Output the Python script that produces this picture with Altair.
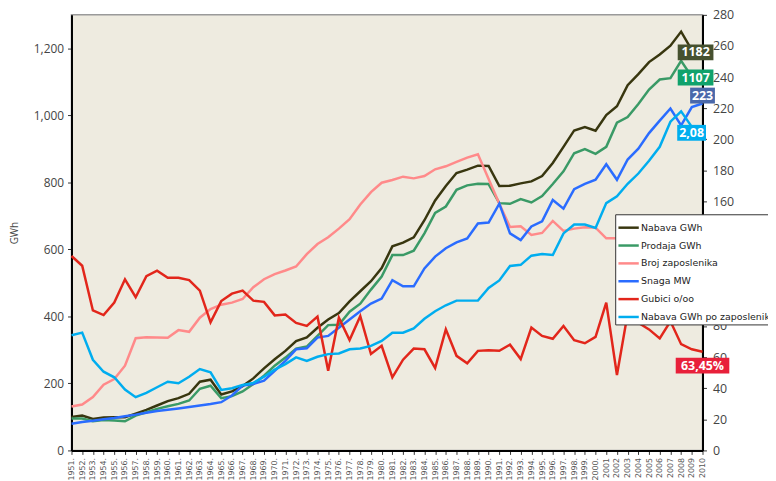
import altair as alt
import pandas as pd

years = list(range(1951, 2011))
year_labels = [
    "1951.", "1952.", "1953.", "1954.", "1955.", "1956.", "1957.", "1958.", "1959.", "1960.",
    "1961.", "1962.", "1963.", "1964.", "1965.", "1966.", "1967.", "1968.", "1969.", "1970.",
    "1971.", "1972.", "1973.", "1974.", "1975.", "1976.", "1977.", "1978.", "1979.", "1980.",
    "1981.", "1982.", "1983.", "1984.", "1985.", "1986.", "1987.", "1988.", "1989.", "1990.",
    "1991.", "1992.", "1993.", "1994.", "1995.", "1996.", "1997.", "1998.", "1999.", "2000.",
    "2001", "2002", "2003", "2004", "2005", "2006", "2007", "2008", "2009", "2010",
]
left_ticks = ["0", "200", "400", "600", "800", "1,000", "1,200"]

# left axis (GWh)
nabava = [100, 104, 94, 98, 99, 99, 110, 121, 134, 147, 156, 169, 205, 211, 167, 176,
          192, 215, 245, 272, 297, 326, 337, 366, 391, 410, 445, 475, 505, 544, 609,
          620, 636, 687, 746, 789, 828, 838, 850, 849, 789, 790, 797, 803, 819, 858,
          906, 955, 965, 954, 1001, 1027, 1090, 1123, 1159, 1182, 1208, 1250, 1195, 1182]
prodaja = [95, 95, 87, 91, 89, 87, 104, 114, 124, 132, 139, 149, 184, 193, 156, 162,
           176, 198, 223, 253, 277, 304, 310, 342, 374, 375, 414, 438, 480, 519, 583,
           583, 596, 648, 709, 728, 778, 791, 796, 795, 738, 736, 750, 740, 759, 795,
           833, 887, 899, 885, 906, 978, 995, 1034, 1077, 1107, 1111, 1163, 1115, 1107]
broj = [131, 137, 159, 196, 213, 253, 335, 338, 337, 336, 359, 354, 396, 422, 435, 441,
        452, 487, 511, 526, 537, 549, 586, 616, 636, 662, 690, 734, 771, 799, 807,
        817, 812, 819, 839, 848, 861, 874, 884, 810, 736, 667, 669, 643, 649, 685,
        655, 662, 666, 665, 633, 633, 630, 628, 625, 622, 620, 618, 615, 612]

# right axis
snaga = [17.2, 18.3, 19.1, 20, 20.8, 22, 23, 24.2, 25.3, 26.1, 27, 27.9, 28.9, 29.8, 31, 35.3,
         41.7, 42.7, 44.8, 51.2, 57.6, 65, 65.7, 72.5, 73.6, 78.9, 84.2, 89.5, 94.4, 97.6, 109.5,
         105.5, 105.5, 117, 124.6, 130, 133.7, 136.3, 145.9, 146.5, 158.6, 139.5, 135.2, 144, 147.3, 161,
         155.4, 168, 171.4, 174, 184, 174, 187, 194, 204, 212, 219.8, 209, 220.7, 223]
gubici = [125, 118.7, 90, 87, 95, 110, 98.5, 112, 115.5, 111, 111, 109.5, 102.7, 82.3, 96, 100.8,
          102.7, 96.3, 95.5, 86.8, 87.4, 82, 80, 86, 51.2, 85.3, 71, 86.3, 62, 67.2, 47,
          58.3, 65.5, 65, 53, 77.8, 60.8, 56, 64, 64.4, 64, 68, 58.7, 79, 73.6, 71.8,
          80, 70.8, 68.9, 73, 95, 48.5, 88, 82, 77.8, 72, 83, 68.3, 65, 63.45]
po_zaposleniku = [74, 75.7, 58.3, 50.6, 47, 39.1, 34.2, 37, 40.6, 44.2, 43.2, 47.4, 52.3, 50.2, 38.9, 40,
                  42.1, 43.4, 47.4, 51.9, 55.5, 59.8, 57.6, 60.2, 61.9, 62.3, 65, 65.5, 67.2, 70.4, 75.7,
                  75.7, 78.4, 84.6, 89.5, 93.3, 96.3, 96.3, 96.3, 104.4, 109.3, 118.6, 119.3, 125.2, 126.3, 125.6,
                  139.5, 145.2, 145.2, 143, 159, 163.3, 171.4, 178, 186.2, 195.2, 211.3, 218, 208, 208]

series_left = ["Nabava GWh", "Prodaja GWh", "Broj zaposlenika"]
series_right = ["Snaga MW", "Gubici o/oo", "Nabava GWh po zaposleniku"]
all_series = series_left + series_right
colors = ["#38360f", "#3a9a66", "#ff8a8a", "#2a6cff", "#e2261b", "#00adef"]

end_series = ["Nabava GWh", "Prodaja GWh", "Snaga MW", "Nabava GWh po zaposleniku", "Gubici o/oo"]
end_texts = ["1182", "1107", "223", "2,08", "63,45%"]


def long_table(names, arrays):
    rows = []
    for name, vals in zip(names, arrays):
        for yr, v in zip(years, vals):
            rows.append({"year": yr, "series": name, "value": v})
    return pd.DataFrame(rows)


df_left = long_table(series_left, [nabava, prodaja, broj])
df_right = long_table(series_right, [snaga, gubici, po_zaposleniku])

x_label_expr = "[" + ",".join('"%s"' % s for s in year_labels) + "][datum.value - 1951]"
y_label_expr = "[" + ",".join('"%s"' % s for s in left_ticks) + "][datum.value / 200]"

x_enc = alt.X(
    "year:Q",
    scale=alt.Scale(domain=[1951, 2010], nice=False, zero=False),
    axis=alt.Axis(
        values=years, labelExpr=x_label_expr, labelAngle=-90, labelAlign="right",
        labelBaseline="middle", labelFontSize=8, labelColor="#555", labelFont="DejaVu Sans",
        labelPadding=3, domainColor="black", domainWidth=2, tickColor="#333", tickSize=4,
        title=None, grid=False, labelOverlap=False,
    ),
)

y_left = alt.Y(
    "value:Q",
    scale=alt.Scale(domain=[0, 1300], nice=False),
    axis=alt.Axis(
        orient="left", values=[0, 200, 400, 600, 800, 1000, 1200], labelExpr=y_label_expr,
        labelFontSize=12, labelColor="#444", labelFont="Open Sans", labelPadding=4,
        domainColor="black", domainWidth=2, tickColor="#333", tickSize=4, grid=False,
        title="GWh", titleFontSize=10, titleFontWeight="normal", titleColor="#444",
        titleFont="Open Sans", titlePadding=14,
    ),
)

y_right = alt.Y(
    "value:Q",
    scale=alt.Scale(domain=[0, 280], nice=False),
    axis=alt.Axis(
        orient="right", values=list(range(0, 281, 20)),
        labelFontSize=12.5, labelColor="#444", labelFont="Open Sans", labelPadding=6,
        domainColor="black", domainWidth=2, tickColor="#333", tickSize=4, grid=False,
        title=None,
    ),
)

color_enc = alt.Color(
    "series:N",
    scale=alt.Scale(domain=all_series, range=colors),
    sort=all_series,
    legend=alt.Legend(
        title=None, orient="none", legendX=548, legendY=201, direction="vertical",
        fillColor="white", strokeColor="#333", padding=2,
        symbolType="stroke", symbolStrokeWidth=2.5, symbolSize=420,
        labelFont="DejaVu Sans", labelFontSize=9.5, labelColor="#222",
        labelOffset=1, rowPadding=1, labelLimit=300, zindex=5,
    ),
)

# label styles: (bg colour, box width, dx, dy)
label_style = {
    "1182": ("#46512f", 36, -7, -2),
    "1107": ("#10a26c", 36, -7, -2),
    "223": ("#4a68aa", 25, 0, -8),
    "2,08": ("#00aeef", 29, -11, 6),
    "63,45%": ("#e8203a", 54, 0, 14),
}


def end_label(series_name, text, arrays_df, y_enc):
    row = arrays_df[(arrays_df["series"] == series_name) & (arrays_df["year"] == 2010)].copy()
    row["label"] = text
    bg, w, dx, dy = label_style[text]
    base = alt.Chart(row)
    rect = base.mark_rect(width=w, height=16, xOffset=dx, yOffset=dy, color=bg).encode(
        x=x_enc, y=y_enc)
    txt = base.mark_text(font="Open Sans", fontSize=12.5, fontWeight="bold", color="white",
                         dx=dx, dy=dy, align="center", baseline="middle").encode(
        x=x_enc, y=y_enc, text="label:N")
    return [rect, txt]


left_lines = alt.Chart(df_left).mark_line(strokeWidth=2.5).encode(
    x=x_enc, y=y_left, color=color_enc)
right_lines = alt.Chart(df_right).mark_line(strokeWidth=2.5).encode(
    x=x_enc, y=y_right, color=color_enc)

left_labels = []
right_labels = []
for s, t in zip(end_series, end_texts):
    if s in series_left:
        left_labels += end_label(s, t, df_left, y_left)
    else:
        right_labels += end_label(s, t, df_right, y_right)

left_group = alt.layer(left_lines, *left_labels)
right_group = alt.layer(right_lines, *right_labels)

chart = alt.layer(left_group, right_group).resolve_scale(y="independent").properties(
    width=636, height=439,
    autosize=alt.AutoSizeParams(type="none"),
    padding={"left": 64, "top": 5, "right": 66, "bottom": 40},
).configure_view(
    fill="#EEEBE0", stroke="#9a9a9a", strokeWidth=1.5,
)

chart.save("out.html", embed_options={"renderer": "svg", "actions": False})
